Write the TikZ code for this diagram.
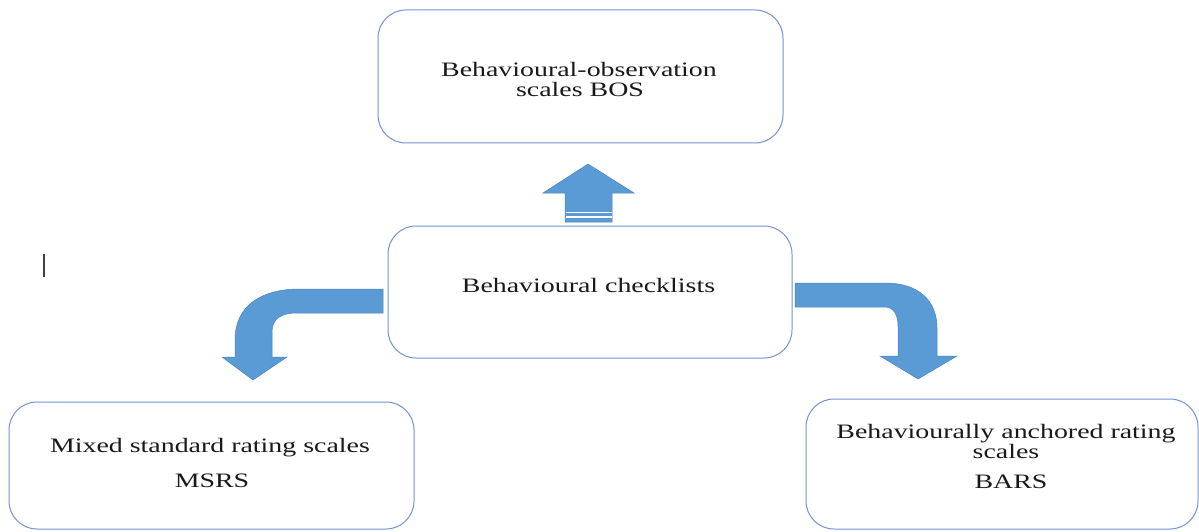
\documentclass[tikz,border=0pt]{standalone}
\usepackage{fontspec}
\setmainfont{Liberation Serif}[FakeStretch=1.36]
\definecolor{boxline}{RGB}{114,148,212}
\definecolor{arrowfill}{RGB}{91,155,213}
\definecolor{arrowline}{RGB}{75,132,192}
\definecolor{txt}{RGB}{25,25,25}
\begin{document}
\begin{tikzpicture}[x=1pt,y=-1pt,
  box/.style={draw=boxline,line width=1pt,rounded corners=28pt,fill=white},
  lbl/.style={anchor=base,inner sep=0pt,text=txt,font=\fontsize{20.5}{20}\selectfont},
  arr/.style={fill=arrowfill,draw=arrowline,line width=0.5pt,line join=miter}]
\useasboundingbox (0,0) rectangle (1199,532);
% boxes
\draw[box] (378,10) rectangle (783,143);
\node[inner sep=0pt] (bos) at (580.5,76.5) {};
\draw[box] (388,226) rectangle (792,358);
\node[inner sep=0pt] (chk) at (590,292) {};
\draw[box] (9,402) rectangle (414,529);
\node[inner sep=0pt] (msrs) at (211.5,465.5) {};
\draw[box] (806,399) rectangle (1198,529);
\node[inner sep=0pt] (bars) at (1002,464) {};
% texts
\node[lbl] (t1) at (579,77) {Behavioural-observation};
\node[lbl] (t2) at (580,97) {scales BOS};
\node[lbl] (t3) at (588.5,292) {Behavioural checklists};
\node[lbl] (t4) at (210,452) {Mixed standard rating scales};
\node[lbl] (t5) at (212,487) {MSRS};
\node[lbl] (t6) at (1006,438) {Behaviourally anchored rating};
\node[lbl] (t7) at (1006,458) {scales};
\node[lbl] (t8) at (1011,488) {BARS};
% up arrow
\draw[arr] (588,164) -- (634,193) -- (612,193) -- (612,222) -- (565,222) -- (565,193) -- (543,193) -- cycle;
\draw[white,line width=1.2pt] (565.5,212.5) -- (611.5,212.5);
\draw[white,line width=1.2pt] (565.5,217) -- (611.5,217);
% left bent arrow
\draw[arr] (383,289) -- (300,289) .. controls (262,289) and (235,305) .. (235,340)
  -- (235,357) -- (222,357) -- (253,380) -- (287,357) -- (272,357) -- (272,332)
  .. controls (272,318) and (282,313) .. (297,313) -- (383,313) -- cycle;
% right bent arrow
\draw[arr] (795,283) -- (885,283) .. controls (918,283) and (937,300) .. (937,328)
  -- (937,356) -- (957,356) -- (918,379) -- (880,356) -- (898,356) -- (898,326)
  .. controls (898,314) and (893,307) .. (885,307) -- (795,307) -- cycle;
% cursor mark
\draw[black!75,line width=1.4pt] (44,254) -- (44,277);
\end{tikzpicture}
\end{document}
